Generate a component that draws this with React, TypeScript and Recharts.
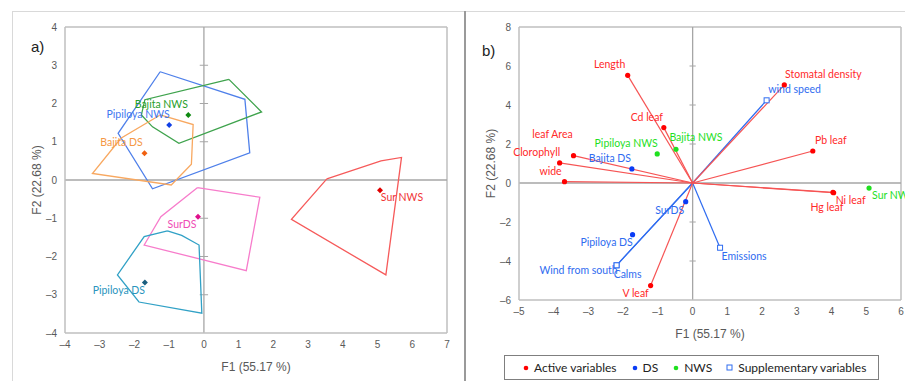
import React from "react";
import { ScatterChart, Scatter, XAxis, YAxis, ReferenceLine } from "recharts";

// ---- panel a: convex hulls of the observations per site/season ----
const pipiloyaNwsHull = [
  { x: -1.26, y: 2.83 }, { x: 1.18, y: 2.11 }, { x: 1.32, y: 0.71 }, { x: -1.48, y: -0.23 }, { x: -2.47, y: 1.22 },
];
const bajitaNwsHull = [
  { x: 0.72, y: 2.63 }, { x: 1.66, y: 1.78 }, { x: -0.72, y: 0.96 }, { x: -1.48, y: 1.39 }, { x: -1.8, y: 1.7 }, { x: -1.7, y: 2.1 },
];
const bajitaDsHull = [
  { x: -1.26, y: 1.7 }, { x: -0.31, y: 1.45 }, { x: -0.36, y: 0.41 }, { x: -0.94, y: -0.13 }, { x: -3.21, y: 0.17 }, { x: -2.39, y: 1.09 },
];
const surDsHull = [
  { x: -0.19, y: -0.2 }, { x: 1.61, y: -0.45 }, { x: 1.22, y: -2.37 }, { x: -1.72, y: -1.7 }, { x: -1.24, y: -0.96 },
];
const pipiloyaDsHull = [
  { x: -1.05, y: -1.33 }, { x: -0.64, y: -1.45 }, { x: -0.14, y: -1.7 }, { x: -0.06, y: -3.48 }, { x: -1.87, y: -3.19 }, { x: -2.49, y: -2.48 }, { x: -1.72, y: -1.48 },
];
const surNwsHull = [
  { x: 3.54, y: 0.03 }, { x: 5.1, y: 0.5 }, { x: 5.69, y: 0.59 }, { x: 5.24, y: -2.48 }, { x: 2.52, y: -1.03 },
];

// group centroids (panel a)
const centroids = [
  { name: "Bajita NWS", x: -0.45, y: 1.7 },
  { name: "Pipiloya NWS", x: -1.0, y: 1.44 },
  { name: "Bajita DS", x: -1.71, y: 0.7 },
  { name: "SurDS", x: -0.17, y: -0.96 },
  { name: "Pipiloya DS", x: -1.7, y: -2.68 },
  { name: "Sur NWS", x: 5.07, y: -0.27 },
];

// ---- panel b: biplot ----
const activeVars = [
  { name: "Length", x: -1.87, y: 5.52 },
  { name: "Cd leaf", x: -0.83, y: 2.84 },
  { name: "leaf Area", x: -3.43, y: 1.4 },
  { name: "Clorophyll", x: -3.83, y: 1.03 },
  { name: "wide", x: -3.69, y: 0.07 },
  { name: "V leaf", x: -1.21, y: -5.26 },
  { name: "Stomatal density", x: 2.64, y: 5.03 },
  { name: "Pb leaf", x: 3.46, y: 1.64 },
  { name: "Ni leaf", x: 4.06, y: -0.5 },
  { name: "Hg leaf", x: 4.04, y: -0.48 },
];
const dsObs = [
  { name: "Bajita DS", x: -1.75, y: 0.72 },
  { name: "SurDS", x: -0.2, y: -0.96 },
  { name: "Pipiloya DS", x: -1.73, y: -2.65 },
];
const nwsObs = [
  { name: "Pipiloya NWS", x: -1.02, y: 1.49 },
  { name: "Bajita NWS", x: -0.48, y: 1.73 },
  { name: "Sur NWS", x: 5.08, y: -0.26 },
];
const suppVars = [
  { name: "wind speed", x: 2.13, y: 4.24 },
  { name: "Emissions", x: 0.79, y: -3.32 },
  { name: "Calms", x: -2.19, y: -4.22 },
  { name: "Wind from south", x: -2.19, y: -4.22 },
];

const ticksAX = [-4, -3, -2, -1, 0, 1, 2, 3, 4, 5, 6, 7];
const ticksAY = [-4, -3, -2, -1, 0, 1, 2, 3, 4];
const ticksBX = [-5, -4, -3, -2, -1, 0, 1, 2, 3, 4, 5, 6];
const ticksBY = [-6, -4, -2, 0, 2, 4, 6, 8];

// label offsets (px) from each marker: [dx, dy, anchor]
const labelPosA: Record<string, [number, number, string]> = {
  "Bajita NWS": [-27, -11, "middle"],
  "Pipiloya NWS": [-31, -11, "middle"],
  "Bajita DS": [-23, -11, "middle"],
  SurDS: [-16, 7, "middle"],
  "Pipiloya DS": [-26, 7, "middle"],
  "Sur NWS": [22, 7, "middle"],
};
const labelPosB: Record<string, [number, number, string]> = {
  Length: [-18, -11, "middle"],
  "Cd leaf": [-17, -11, "middle"],
  "leaf Area": [-21, -22, "middle"],
  Clorophyll: [-23, -11, "middle"],
  wide: [-14, -11, "middle"],
  "V leaf": [-15, 7, "middle"],
  "Stomatal density": [39, -11, "middle"],
  "Pb leaf": [18, -11, "middle"],
  "Ni leaf": [17, 7, "middle"],
  "Hg leaf": [-6, 15, "middle"],
  "Pipiloya NWS": [-31, -11, "middle"],
  "Bajita NWS": [20, -12, "middle"],
  "Sur NWS": [3, 7, "start"],
  "Bajita DS": [-22, -11, "middle"],
  SurDS: [-16, 8, "middle"],
  "Pipiloya DS": [-26, 7, "middle"],
  "wind speed": [28, -11, "middle"],
  Emissions: [24, 8, "middle"],
  Calms: [11, 9, "middle"],
  "Wind from south": [-38, 5, "middle"],
};

const colorA: Record<string, { hull: string; text: string; dot: string }> = {
  "Bajita NWS": { hull: "#3fa34d", text: "#27a02a", dot: "#0f8a12" },
  "Pipiloya NWS": { hull: "#4f80ea", text: "#3f78f0", dot: "#1040e6" },
  "Bajita DS": { hull: "#f8a860", text: "#f59845", dot: "#f06010" },
  SurDS: { hull: "#f77ccb", text: "#ef4cb4", dot: "#e0108c" },
  "Pipiloya DS": { hull: "#31a1c6", text: "#2a95bd", dot: "#1a5f80" },
  "Sur NWS": { hull: "#f65a5a", text: "#f03636", dot: "#e00000" },
};

const RED = "#ff2a2a";
const RED_LINE = "#f65454";
const BLUE = "#2f6cf0";
const BLUE_DOT = "#0a3cf5";
const GREEN = "#1fe01f";
const GREY_TXT = "#595959";
const BOX = "#bfbfbf";
const ZERO = "#a6a6a6";
const LABEL_FONT = "Lato, 'Open Sans', sans-serif";
const AXIS_FONT = "'Liberation Sans', Arial, sans-serif";

const fmt = (v: number) => (v < 0 ? "\u2013" + Math.abs(v) : String(v));
const close = (pts: { x: number; y: number }[]) => [...pts, pts[0]];

const noShape = () => <g />;

const markerA = (props: any) => {
  const { cx, cy, payload } = props;
  const c = colorA[payload.name];
  const p = labelPosA[payload.name];
  return (
    <g>
      <polygon points={`${cx},${cy - 3} ${cx + 3},${cy} ${cx},${cy + 3} ${cx - 3},${cy}`} fill={c.dot} />
      <text x={cx + p[0]} y={cy + p[1]} textAnchor={p[2] as any} dominantBaseline="central" fill={c.text} fontSize={10.5} fontFamily={LABEL_FONT}>
        {payload.name}
      </text>
    </g>
  );
};

const markerB = (fill: string, textFill: string, square: boolean) => (props: any) => {
  const { cx, cy, payload } = props;
  const p = labelPosB[payload.name] || [0, -10, "middle"];
  return (
    <g>
      {square ? (
        <rect x={cx - 2.5} y={cy - 2.5} width={5} height={5} fill="#fff" stroke={fill} strokeWidth={1} />
      ) : (
        <circle cx={cx} cy={cy} r={2.6} fill={fill} />
      )}
      <text x={cx + p[0]} y={cy + p[1]} textAnchor={p[2] as any} dominantBaseline="central" fill={textFill} fontSize={10.5} fontFamily={LABEL_FONT}>
        {payload.name}
      </text>
    </g>
  );
};

const tickStyle = { fill: GREY_TXT, fontSize: 10, fontFamily: AXIS_FONT };
const titleStyle = { fill: GREY_TXT, fontSize: 12, fontFamily: AXIS_FONT };

const hullsA = [
  { name: "Pipiloya NWS", pts: pipiloyaNwsHull },
  { name: "Bajita NWS", pts: bajitaNwsHull },
  { name: "Bajita DS", pts: bajitaDsHull },
  { name: "SurDS", pts: surDsHull },
  { name: "Pipiloya DS", pts: pipiloyaDsHull },
  { name: "Sur NWS", pts: surNwsHull },
];

const PanelA = () => (
  <ScatterChart width={460} height={381} margin={{ top: 27, right: 13, bottom: 10, left: 0 }} style={{ overflow: "visible" }}>
    <XAxis
      type="number"
      dataKey="x"
      domain={[-4, 7]}
      ticks={ticksAX}
      tickFormatter={fmt}
      tickLine={false}
      axisLine={{ stroke: BOX, strokeWidth: 1.5 }}
      tick={tickStyle}
      height={38}
      label={{ value: "F1 (55.17 %)", position: "insideBottom", offset: 0, style: titleStyle }}
    />
    <YAxis
      type="number"
      dataKey="y"
      domain={[-4, 4]}
      ticks={ticksAY}
      tickFormatter={fmt}
      tickLine={false}
      axisLine={{ stroke: BOX, strokeWidth: 1.5 }}
      tick={tickStyle}
      width={65}
      label={{ value: "F2 (22.68 %)", angle: -90, position: "insideLeft", offset: 37, style: { ...titleStyle, textAnchor: "middle" } }}
    />
    <ReferenceLine x={7} stroke={BOX} strokeWidth={1.5} />
    <ReferenceLine y={4} stroke={BOX} strokeWidth={1.5} />
    <ReferenceLine x={0} stroke={ZERO} strokeWidth={1.3} />
    <ReferenceLine y={0} stroke={ZERO} strokeWidth={1.3} />
    {ticksAY
      .filter((t) => t !== 0 && Math.abs(t) < 4)
      .map((t) => (
        <ReferenceLine key={"ta" + t} segment={[{ x: -0.12, y: t }, { x: 0.12, y: t }]} stroke={ZERO} strokeWidth={1} />
      ))}
    {hullsA.map((h) => (
      <Scatter
        key={h.name}
        data={close(h.pts)}
        line={{ stroke: colorA[h.name].hull, strokeWidth: 1.3 }}
        lineType="joint"
        shape={noShape}
        isAnimationActive={false}
      />
    ))}
    <Scatter data={centroids} shape={markerA} isAnimationActive={false} />
  </ScatterChart>
);

const PanelB = () => (
  <ScatterChart width={440} height={381} margin={{ top: 27, right: 4, bottom: 43, left: 0 }} style={{ overflow: "visible" }}>
    <XAxis
      type="number"
      dataKey="x"
      domain={[-5, 6]}
      ticks={ticksBX}
      tickFormatter={fmt}
      tickLine={false}
      axisLine={{ stroke: BOX, strokeWidth: 1.5 }}
      tick={tickStyle}
      height={38}
      label={{ value: "F1 (55.17 %)", position: "insideBottom", offset: 0, style: titleStyle }}
    />
    <YAxis
      type="number"
      dataKey="y"
      domain={[-6, 8]}
      ticks={ticksBY}
      tickFormatter={fmt}
      tickLine={false}
      axisLine={{ stroke: BOX, strokeWidth: 1.5 }}
      tick={tickStyle}
      width={54}
      label={{ value: "F2 (22.68 %)", angle: -90, position: "insideLeft", offset: 26, style: { ...titleStyle, textAnchor: "middle" } }}
    />
    <ReferenceLine x={6} stroke={BOX} strokeWidth={1.5} />
    <ReferenceLine y={8} stroke={BOX} strokeWidth={1.5} />
    <ReferenceLine x={0} stroke={ZERO} strokeWidth={1.3} />
    <ReferenceLine y={0} stroke={ZERO} strokeWidth={1.3} />
    {ticksBY
      .filter((t) => t !== 0 && t > -6 && t < 8)
      .map((t) => (
        <ReferenceLine key={"tb" + t} segment={[{ x: -0.09, y: t }, { x: 0.09, y: t }]} stroke={ZERO} strokeWidth={1} />
      ))}
    {suppVars.map((v) => (
      <ReferenceLine key={"s" + v.name} segment={[{ x: 0, y: 0 }, { x: v.x, y: v.y }]} stroke={BLUE} strokeWidth={1.2} />
    ))}
    {activeVars.map((v) => (
      <ReferenceLine key={"a" + v.name} segment={[{ x: 0, y: 0 }, { x: v.x, y: v.y }]} stroke={RED_LINE} strokeWidth={1.2} />
    ))}
    <Scatter name="Active variables" data={activeVars} shape={markerB("#ff0000", RED, false)} isAnimationActive={false} />
    <Scatter name="DS" data={dsObs} shape={markerB(BLUE_DOT, BLUE, false)} isAnimationActive={false} />
    <Scatter name="NWS" data={nwsObs} shape={markerB(GREEN, GREEN, false)} isAnimationActive={false} />
    <Scatter name="Supplementary variables" data={suppVars} shape={markerB(BLUE, BLUE, true)} isAnimationActive={false} />
  </ScatterChart>
);

const legendItems = [
  { label: "Active variables", color: "#ff0000", square: false },
  { label: "DS", color: BLUE_DOT, square: false },
  { label: "NWS", color: GREEN, square: false },
  { label: "Supplementary variables", color: BLUE, square: true },
];

export default function App() {
  return (
    <div style={{ position: "absolute", left: 0, top: 0, width: 905, height: 381, background: "#fff", overflow: "hidden" }}>
      {/* frame lines */}
      <div style={{ position: "absolute", left: 12, top: 11, width: 893, height: 0, borderTop: "1px solid #d9d9d9" }} />
      <div style={{ position: "absolute", left: 12, top: 11, width: 0, height: 370, borderLeft: "1px solid #d9d9d9" }} />
      <div style={{ position: "absolute", left: 464, top: 11, width: 0, height: 370, borderLeft: "2px solid #9a9a9a" }} />

      <div style={{ position: "absolute", left: 0, top: 0 }}>
        <PanelA />
      </div>
      <div style={{ position: "absolute", left: 31, top: 38, fontSize: 15, fontFamily: AXIS_FONT, color: "#222" }}>a)</div>

      <div style={{ position: "absolute", left: 465, top: 0 }}>
        <PanelB />
      </div>
      <div style={{ position: "absolute", left: 482, top: 42, fontSize: 15, fontFamily: AXIS_FONT, color: "#222" }}>b)</div>

      {/* legend */}
      <div
        style={{
          position: "absolute",
          left: 504,
          top: 355,
          width: 375,
          height: 25,
          border: "1px solid #7f7f7f",
          boxSizing: "border-box",
          display: "flex",
          alignItems: "center",
          paddingLeft: 17,
          fontFamily: LABEL_FONT,
          fontSize: 12,
          color: "#222",
          whiteSpace: "nowrap",
        }}
      >
        {legendItems.map((it) => (
          <span key={it.label} style={{ display: "flex", alignItems: "center", marginRight: 14, flexShrink: 0 }}>
            <svg width={8} height={8} style={{ marginRight: 4 }}>
              {it.square ? (
                <rect x={1} y={1} width={5} height={5} fill="#fff" stroke={it.color} strokeWidth={1} />
              ) : (
                <circle cx={4} cy={4} r={2.3} fill={it.color} />
              )}
            </svg>
            {it.label}
          </span>
        ))}
      </div>
    </div>
  );
}
